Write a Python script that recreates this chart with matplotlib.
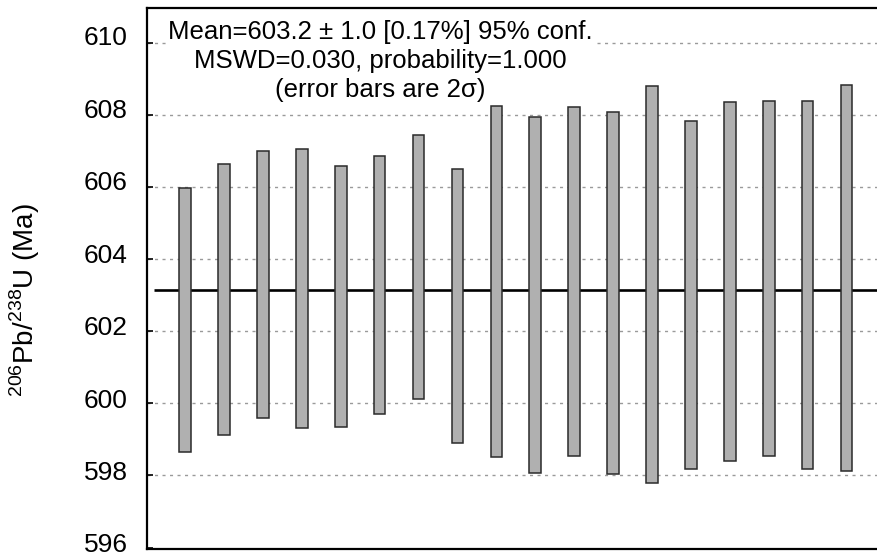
import numpy as np
import matplotlib
matplotlib.use("Agg")
import matplotlib.pyplot as plt
from matplotlib.patches import Rectangle
from matplotlib.transforms import ScaledTranslation

plt.rcParams["font.family"] = ["Liberation Sans", "DejaVu Sans"]
plt.rcParams["mathtext.fontset"] = "custom"
plt.rcParams["mathtext.rm"] = "Liberation Sans"

# 2σ error bars (top / bottom, Ma)
spot = list(range(1, 19))
age_hi = [605.96, 606.64, 606.99, 607.06, 606.59, 606.87, 607.44, 606.49, 608.25,
          607.94, 608.21, 608.09, 608.79, 607.82, 608.36, 608.39, 608.39, 608.83]
age_lo = [598.64, 599.12, 599.58, 599.31, 599.35, 599.70, 600.12, 598.90, 598.52,
          598.06, 598.54, 598.04, 597.78, 598.17, 598.40, 598.54, 598.17, 598.12]
mean_age = 603.15
yticks = [596, 598, 600, 602, 604, 606, 608, 610]
label_lines = ["Mean=603.2 ± 1.0 [0.17%] 95% conf.",
               "MSWD=0.030, probability=1.000",
               "(error bars are 2σ)"]

fig = plt.figure(figsize=(8.78, 5.56), dpi=100)
ax = fig.add_axes([147 / 878, 7 / 556, 1 - 147 / 878, 541 / 556])
ax.set_xlim(0.02, 18.81)
ax.set_ylim(595.96, 610.96)

# dotted grid lines
for t in yticks[1:]:
    ax.axhline(t, color="#9a9a9a", lw=1.0, ls=(0, (2.2, 3.2)), zorder=1)

# error boxes
w = 0.3
for x, hi, lo in zip(spot, age_hi, age_lo):
    ax.add_patch(Rectangle((x - w / 2, lo), w, hi - lo, fc="#b0b0b0",
                           ec="#2a2a2a", lw=1.1, zorder=3))

# weighted mean
ax.hlines(mean_age, 0.2, 18.81, color="black", lw=1.9, zorder=2)

ax.set_yticks(yticks)
ax.set_xticks([])
ax.tick_params(axis="y", direction="in", length=4, width=1.2, labelsize=19, pad=14)
# labels sit a little above their ticks in the original (more so near the top)
for lab, t in zip(ax.get_yticklabels(), yticks):
    dy = max(5.0, 4 + 3 * (t - 596) / 14)
    lab.set_transform(lab.get_transform() + ScaledTranslation(0, dy / 100, fig.dpi_scale_trans))
for s in ["left", "top", "bottom"]:
    ax.spines[s].set_linewidth(1.6)
ax.spines["right"].set_visible(False)

ax.set_ylabel(r"$^{206}$Pb/$^{238}$U (Ma)", fontsize=20)
ax.yaxis.set_label_coords(-0.144, 0.46)

ax.text(6.02, 610.64, "\n".join(label_lines), ha="center", va="top",
        fontsize=18.5, linespacing=1.28, zorder=5,
        bbox=dict(fc="white", ec="none", pad=1.0))

fig.savefig("out.png", dpi=100)
